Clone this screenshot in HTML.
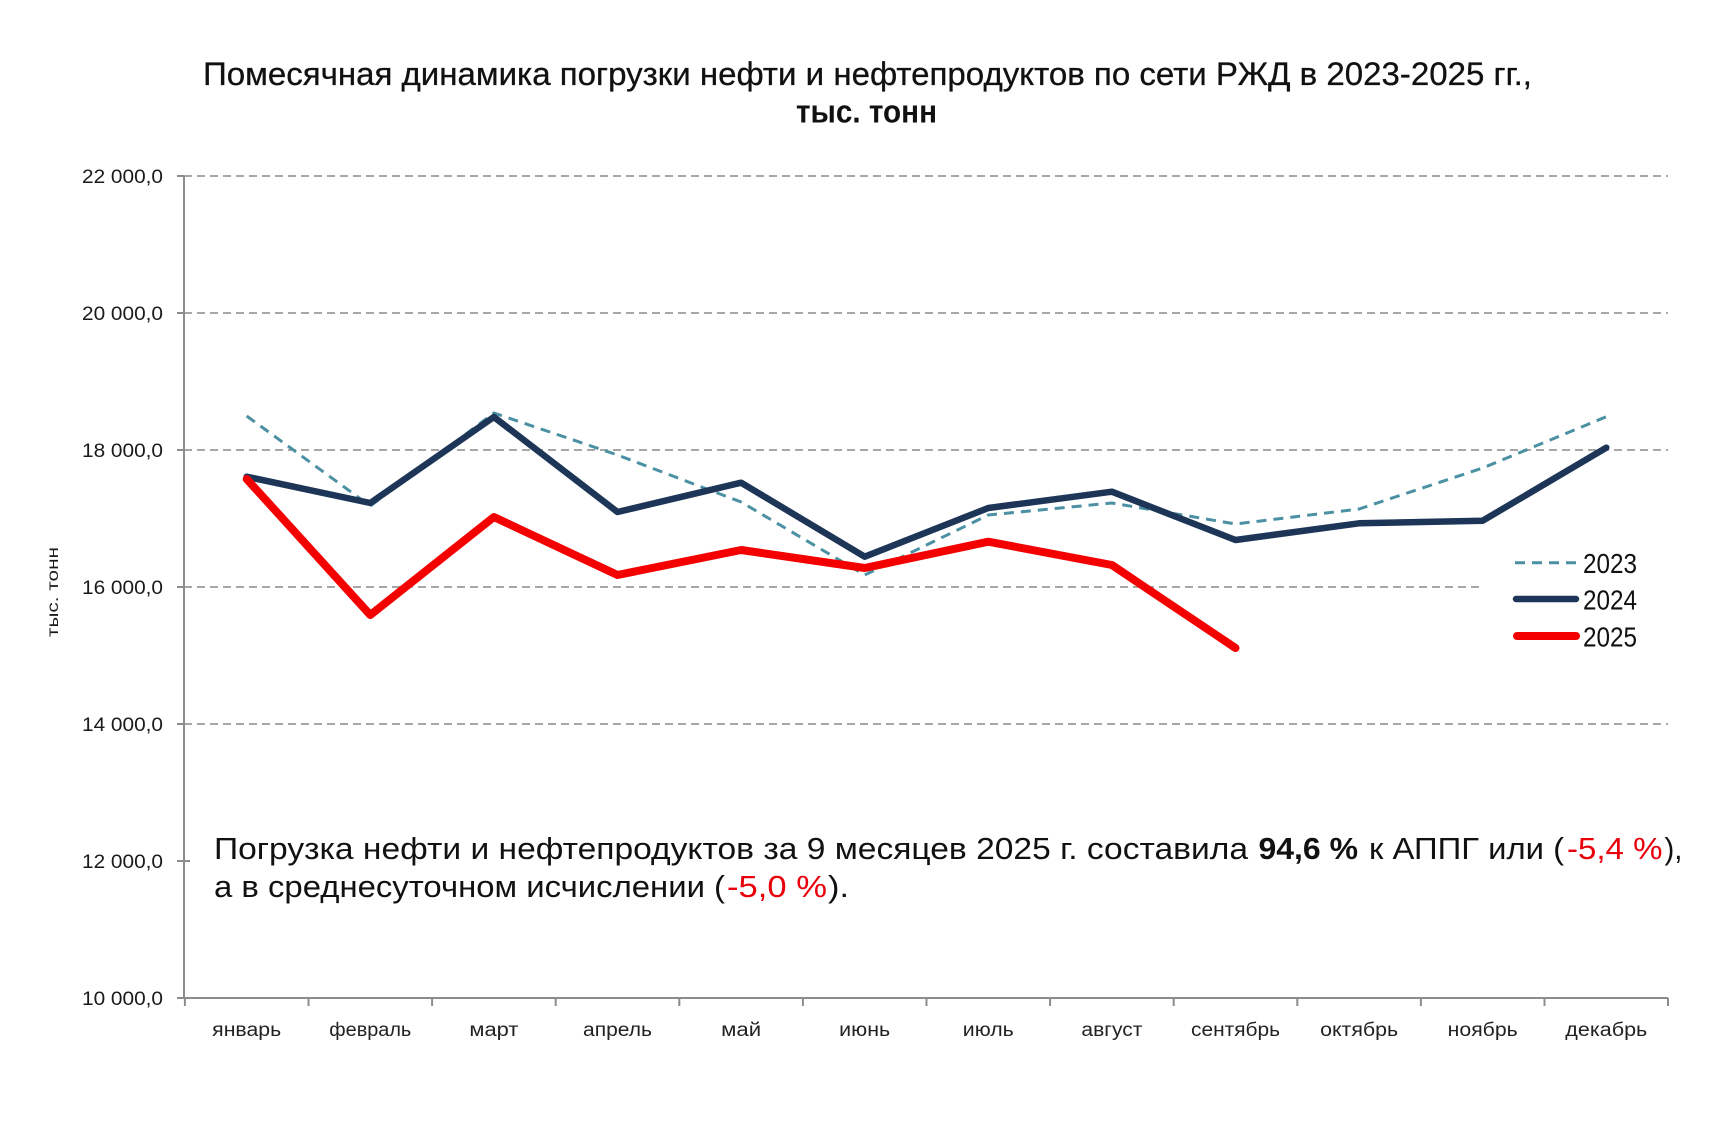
<!DOCTYPE html>
<html>
<head>
<meta charset="utf-8">
<style>
  html,body{margin:0;padding:0;background:#fff;}
  svg{display:block;}
  text{font-family:"Liberation Sans","DejaVu Sans",sans-serif;}
</style>
</head>
<body>
<svg width="1732" height="1131" viewBox="0 0 1732 1131" xmlns="http://www.w3.org/2000/svg">
  <rect x="0" y="0" width="1732" height="1131" fill="#fff"/>

  <!-- Title -->
  <text x="203" y="85" font-size="32.5" fill="#111" stroke="#111" stroke-width="0.3" textLength="1329" lengthAdjust="spacingAndGlyphs">Помесячная динамика  погрузки нефти и нефтепродуктов по сети РЖД в 2023-2025 гг.,</text>
  <text x="796" y="122.7" font-size="32" font-weight="bold" fill="#111" textLength="141" lengthAdjust="spacingAndGlyphs">тыс. тонн</text>

  <!-- Gridlines -->
  <g stroke="#8a8a8a" stroke-width="1.5" stroke-dasharray="8,5" fill="none">
    <line x1="184" y1="176" x2="1668" y2="176"/>
    <line x1="184" y1="313" x2="1668" y2="313"/>
    <line x1="184" y1="450" x2="1668" y2="450"/>
    <line x1="184" y1="587" x2="1482" y2="587"/>
    <line x1="184" y1="724" x2="1668" y2="724"/>
  </g>

  <!-- Axes -->
  <g stroke="#8c8c8c" stroke-width="2" fill="none">
    <line x1="184" y1="176" x2="184" y2="999"/>
    <line x1="184" y1="998" x2="1668" y2="998"/>
    <line x1="177" y1="176" x2="184" y2="176"/>
    <line x1="177" y1="313" x2="184" y2="313"/>
    <line x1="177" y1="450" x2="184" y2="450"/>
    <line x1="177" y1="587" x2="184" y2="587"/>
    <line x1="177" y1="724" x2="184" y2="724"/>
    <line x1="177" y1="861" x2="190" y2="861"/>
    <line x1="177" y1="998" x2="184" y2="998"/>
    <line x1="184.9" y1="998" x2="184.9" y2="1006"/>
    <line x1="308.5" y1="998" x2="308.5" y2="1006"/>
    <line x1="432.1" y1="998" x2="432.1" y2="1006"/>
    <line x1="555.7" y1="998" x2="555.7" y2="1006"/>
    <line x1="679.3" y1="998" x2="679.3" y2="1006"/>
    <line x1="802.9" y1="998" x2="802.9" y2="1006"/>
    <line x1="926.5" y1="998" x2="926.5" y2="1006"/>
    <line x1="1050.1" y1="998" x2="1050.1" y2="1006"/>
    <line x1="1173.7" y1="998" x2="1173.7" y2="1006"/>
    <line x1="1297.3" y1="998" x2="1297.3" y2="1006"/>
    <line x1="1420.9" y1="998" x2="1420.9" y2="1006"/>
    <line x1="1544.5" y1="998" x2="1544.5" y2="1006"/>
    <line x1="1668" y1="998" x2="1668" y2="1006"/>
  </g>

  <!-- Y tick labels -->
  <g font-size="19" fill="#1a1a1a" text-anchor="end">
    <text x="163" y="183" textLength="81" lengthAdjust="spacingAndGlyphs">22 000,0</text>
    <text x="163" y="320" textLength="81" lengthAdjust="spacingAndGlyphs">20 000,0</text>
    <text x="163" y="457" textLength="81" lengthAdjust="spacingAndGlyphs">18 000,0</text>
    <text x="163" y="594" textLength="81" lengthAdjust="spacingAndGlyphs">16 000,0</text>
    <text x="163" y="731" textLength="81" lengthAdjust="spacingAndGlyphs">14 000,0</text>
    <text x="163" y="868" textLength="81" lengthAdjust="spacingAndGlyphs">12 000,0</text>
    <text x="163" y="1005" textLength="81" lengthAdjust="spacingAndGlyphs">10 000,0</text>
  </g>

  <!-- Y axis title -->
  <text transform="translate(58,592) rotate(-90)" font-size="16" fill="#1a1a1a" text-anchor="middle" textLength="90" lengthAdjust="spacingAndGlyphs">тыс. тонн</text>

  <!-- X labels -->
  <g font-size="19" fill="#222" text-anchor="middle">
    <text x="246.7" y="1036" textLength="69" lengthAdjust="spacingAndGlyphs">январь</text>
    <text x="370.3" y="1036" textLength="82" lengthAdjust="spacingAndGlyphs">февраль</text>
    <text x="493.9" y="1036" textLength="49" lengthAdjust="spacingAndGlyphs">март</text>
    <text x="617.5" y="1036" textLength="69" lengthAdjust="spacingAndGlyphs">апрель</text>
    <text x="741.1" y="1036" textLength="40" lengthAdjust="spacingAndGlyphs">май</text>
    <text x="864.7" y="1036" textLength="51" lengthAdjust="spacingAndGlyphs">июнь</text>
    <text x="988.3" y="1036" textLength="51" lengthAdjust="spacingAndGlyphs">июль</text>
    <text x="1111.9" y="1036" textLength="61" lengthAdjust="spacingAndGlyphs">август</text>
    <text x="1235.5" y="1036" textLength="89" lengthAdjust="spacingAndGlyphs">сентябрь</text>
    <text x="1359.1" y="1036" textLength="78" lengthAdjust="spacingAndGlyphs">октябрь</text>
    <text x="1482.7" y="1036" textLength="70" lengthAdjust="spacingAndGlyphs">ноябрь</text>
    <text x="1606.3" y="1036" textLength="82" lengthAdjust="spacingAndGlyphs">декабрь</text>
  </g>

  <!-- Series 2023 (dashed teal) -->
  <polyline fill="none" stroke="#4b91a3" stroke-width="3" stroke-dasharray="10,7" stroke-linejoin="round"
    points="246.7,416 370.3,506 493.9,413 617.5,455 741.1,502 864.7,575 988.3,515 1111.9,503 1235.5,524 1359.1,509 1482.7,468 1606.3,416.7"/>

  <!-- Series 2024 (navy) -->
  <polyline fill="none" stroke="#1d3658" stroke-width="6.5" stroke-linejoin="round" stroke-linecap="round"
    points="246.7,476.7 370.3,503 493.9,417 617.5,512 741.1,482.7 864.7,556.7 988.3,508 1111.9,491.7 1235.5,540 1359.1,523.3 1482.7,520.7 1606.3,447.7"/>

  <!-- Series 2025 (red) -->
  <polyline fill="none" stroke="#f50000" stroke-width="8" stroke-linejoin="round" stroke-linecap="round"
    points="246.7,479 370.3,615 493.9,517 617.5,575 741.1,550 864.7,568 988.3,541.7 1111.9,565 1235.5,648"/>

  <!-- Legend -->
  <line x1="1515" y1="562.7" x2="1577" y2="562.7" stroke="#4b91a3" stroke-width="3" stroke-dasharray="10,7"/>
  <line x1="1516" y1="599" x2="1576" y2="599" stroke="#1d3658" stroke-width="6.5" stroke-linecap="round"/>
  <line x1="1517" y1="636" x2="1576" y2="636" stroke="#f50000" stroke-width="8" stroke-linecap="round"/>
  <g font-size="28" fill="#111">
    <text x="1583" y="573" textLength="54" lengthAdjust="spacingAndGlyphs">2023</text>
    <text x="1583" y="609.5" textLength="54" lengthAdjust="spacingAndGlyphs">2024</text>
    <text x="1583" y="646.5" textLength="54" lengthAdjust="spacingAndGlyphs">2025</text>
  </g>

  <!-- Annotation -->
  <g font-size="31" fill="#111">
    <text x="214" y="859" textLength="1034" lengthAdjust="spacingAndGlyphs">Погрузка нефти и нефтепродуктов за 9 месяцев  2025 г. составила</text>
    <text x="1258.5" y="859" font-weight="bold" textLength="99.5" lengthAdjust="spacingAndGlyphs">94,6 %</text>
    <text x="1369" y="859" textLength="195" lengthAdjust="spacingAndGlyphs">к АППГ или (</text>
    <text x="1567" y="859" fill="#e8000b" textLength="95.5" lengthAdjust="spacingAndGlyphs">-5,4 %</text>
    <text x="1664.5" y="859" textLength="18" lengthAdjust="spacingAndGlyphs">),</text>

    <text x="214" y="897" textLength="511" lengthAdjust="spacingAndGlyphs">а в среднесуточном исчислении (</text>
    <text x="727" y="897" fill="#e8000b" textLength="100" lengthAdjust="spacingAndGlyphs">-5,0 %</text>
    <text x="828" y="897" textLength="21" lengthAdjust="spacingAndGlyphs">).</text>
  </g>
</svg>
</body>
</html>
